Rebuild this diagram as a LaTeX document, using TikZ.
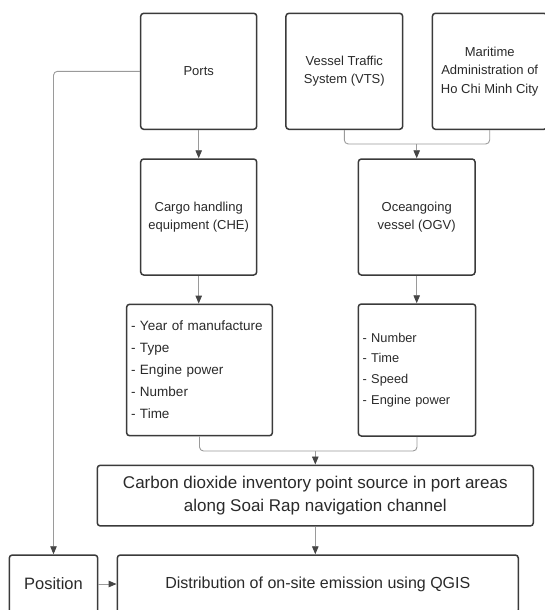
\documentclass[tikz,border=0pt]{standalone}
\usepackage{fontspec}
\setmainfont{Liberation Sans}
\usetikzlibrary{arrows.meta}
\definecolor{boxc}{HTML}{3A3A3A}
\definecolor{linec}{HTML}{9A9A9A}
\definecolor{tipc}{HTML}{454545}
\definecolor{txtc}{HTML}{2A2A2A}
\begin{document}
\begin{tikzpicture}[x=1pt,y=-1pt,
  box/.style={draw=boxc, line width=1.5pt, rounded corners=3pt, fill=white,
              text=txtc, align=center, inner sep=0pt},
  topbox/.style={box, minimum width=116pt, minimum height=116pt,
              font=\fontsize{13}{18.5}\selectfont},
  listbox/.style={box, align=left, inner xsep=4.4pt},
  conn/.style={draw=linec, line width=0.9pt, rounded corners=4pt},
  arr/.style={conn, -{Triangle[length=8pt,width=6.5pt,color=tipc]}}]
\useasboundingbox (0,0) rectangle (545,610);

% top row
\node[topbox] (ports) at (198.7,71.3) {Ports};
\node[topbox, minimum width=116.7pt] (vts) at (344.3,71.3) {Vessel Traffic\\System (VTS)};
\node[topbox, minimum width=114.6pt] (mar) at (489.7,71.3) {Maritime\\Administration of\\Ho Chi Minh City};

% second row
\node[topbox] (che) at (198.7,217) {Cargo handling\\equipment (CHE)};
\node[topbox, minimum width=116.7pt] (ogv) at (416.7,217) {Oceangoing\\vessel (OGV)};

% lists
\node[listbox, text width=137pt, minimum height=131.4pt,
      font=\fontsize{13.5}{22}\selectfont] (chelist) at (199.5,370)
  {- Year of manufacture\\- Type\\- Engine power\\- Number\\- Time};
\node[listbox, text width=108.6pt, minimum height=132pt,
      font=\fontsize{12.8}{20.7}\selectfont] (ogvlist) at (417,370)
  {- Number\\- Time\\- Speed\\- Engine power};

% carbon box
\node[box, minimum width=436pt, minimum height=60.7pt,
      font=\fontsize{17}{23}\selectfont] (carbon) at (315.3,495.6)
  {Carbon dioxide inventory point source in port areas\\along Soai Rap navigation channel};

% bottom row
\node[box, minimum width=401pt, minimum height=58pt,
      font=\fontsize{16}{20}\selectfont] (dist) at (317.8,584)
  {Distribution of on-site emission using QGIS};
\node[box, minimum width=88.4pt, minimum height=58pt,
      font=\fontsize{16.5}{20}\selectfont] (pos) at (53.5,584) {Position};

% junctions
\coordinate (j1) at (416.7,144);
\coordinate (j2) at (315.3,451);

% connectors
\draw[arr] (ports.west) -| (pos.north);
\draw[arr] (ports.south) -- (che.north);
\draw[conn] (vts.south) |- (j1) -| (mar.south);
\draw[arr] (j1) -- (ogv.north);
\draw[arr] (che.south) -- (che.south |- chelist.north);
\draw[arr] (ogv.south) -- (ogv.south |- ogvlist.north);
\draw[conn] (chelist.south) |- (j2) -| (ogvlist.south);
\draw[arr] (j2) -- (carbon.north);
\draw[arr] (carbon.south) -- (carbon.south |- dist.north);
\draw[arr] (pos.east) -- (dist.west);
\end{tikzpicture}
\end{document}
